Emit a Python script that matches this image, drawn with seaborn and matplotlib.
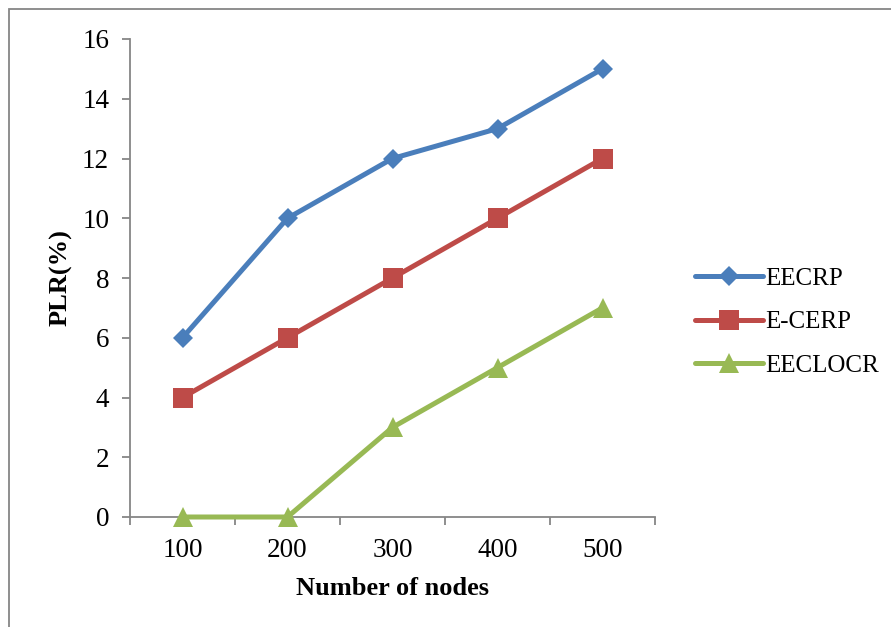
import matplotlib
matplotlib.use("Agg")
import matplotlib.pyplot as plt
import seaborn as sns
import pandas as pd
from matplotlib.patches import Rectangle
from matplotlib.ticker import FixedLocator, NullFormatter

categories = ["100", "200", "300", "400", "500"]
series_names = ["EECRP", "E-CERP", "EECLOCR"]
eecrp = [6, 10, 12, 13, 15]
ecerp = [4, 6, 8, 10, 12]
eeclocr = [0, 0, 3, 5, 7]
y_ticks = [0, 2, 4, 6, 8, 10, 12, 14, 16]

colors = ["#4A7EBB", "#BE4B48", "#98B954"]
markers = ["D", "s", "^"]
msizes = [10.5, 14, 14]

sns.set_theme(style="white")
plt.rcParams["font.family"] = ["Liberation Serif", "DejaVu Serif"]
plt.rcParams["text.color"] = "black"
plt.rcParams["axes.labelcolor"] = "black"

fig = plt.figure(figsize=(8.91, 6.27), dpi=100)
ax = fig.add_axes([130 / 891, 1 - 517 / 627, 525 / 891, 478 / 627])

values = [eecrp, ecerp, eeclocr]
for name, vals, c, m, ms in zip(series_names, values, colors, markers, msizes):
    df = pd.DataFrame({"pos": list(range(len(categories))), "PLR": vals})
    sns.lineplot(data=df, x="pos", y="PLR", ax=ax, color=c, marker=m,
                 markersize=ms, markeredgecolor=c, markeredgewidth=0,
                 linewidth=3.6, label=name, solid_capstyle="round",
                 clip_on=False, zorder=5)

ax.set_xlim(-0.5, len(categories) - 0.5)
ax.set_ylim(0, 16)
ax.set_yticks(y_ticks)
ax.set_yticklabels([str(v) for v in y_ticks], fontsize=19.5)

# Category axis: ticks between categories, labels at categories
ax.xaxis.set_major_locator(FixedLocator([i - 0.5 for i in range(len(categories) + 1)]))
ax.xaxis.set_major_formatter(NullFormatter())
ax.xaxis.set_minor_locator(FixedLocator(list(range(len(categories)))))
ax.set_xticklabels(categories, minor=True, fontsize=19.5)
ax.tick_params(axis="x", which="minor", length=0, pad=15)
ax.tick_params(axis="x", which="major", direction="out", length=6, width=1.3, color="#868686")
ax.tick_params(axis="y", direction="out", length=6, width=1.3, color="#868686", pad=9)
ax.tick_params(left=True, bottom=True)

for s in ["top", "right"]:
    ax.spines[s].set_visible(False)
for s in ["left", "bottom"]:
    ax.spines[s].set_color("#868686")
    ax.spines[s].set_linewidth(1.3)

ax.set_xlabel("Number of nodes", fontsize=19, fontweight="bold", labelpad=10, color="black")
ax.set_ylabel("PLR(%)", fontsize=19, fontweight="bold", labelpad=7, color="black")
for t in ax.get_xticklabels(minor=True) + ax.get_yticklabels():
    t.set_color("black")

leg = ax.legend(loc="center left", bbox_to_anchor=(695 / 891, 1 - 322 / 627),
                bbox_transform=fig.transFigure, frameon=False, fontsize=18,
                handlelength=2.7, handletextpad=0.1, labelspacing=0.85,
                borderpad=0, borderaxespad=0)
for t in leg.get_texts():
    t.set_color("black")

fig.patches.append(Rectangle((9 / 891, -0.05), 1.1, 1 - 9 / 627 + 0.05,
                             transform=fig.transFigure, fill=False,
                             edgecolor="#868686", linewidth=1.3, zorder=10))

fig.savefig("out.png", dpi=100)
